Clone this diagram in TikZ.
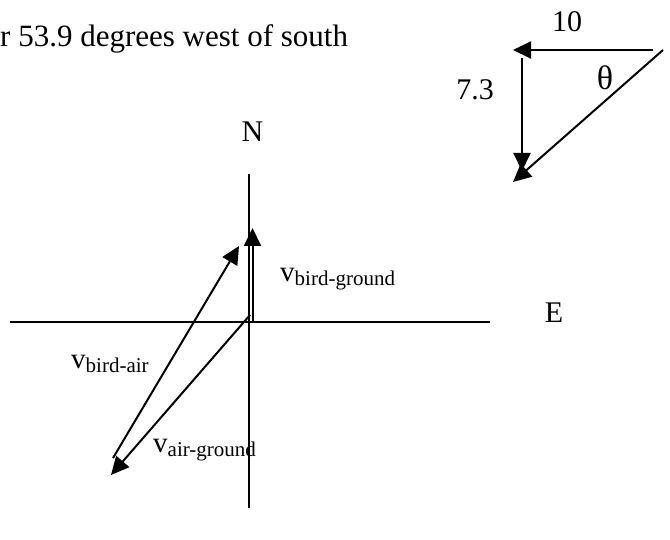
\documentclass[tikz,border=0pt]{standalone}
\usepackage{fontspec}
\setmainfont{Liberation Serif}
\usetikzlibrary{arrows.meta}
\tikzset{
  ln/.style={line width=2pt, line cap=butt},
  arr/.style={ln, -{Triangle[length=18pt,width=17pt]}},
  lab/.style={inner sep=0pt, anchor=base, font=\fontsize{30}{30}\selectfont},
  vlab/.style={inner sep=0pt, anchor=base west, font=\fontsize{29}{30}\selectfont},
}
\newcommand{\sbs}[1]{\raisebox{-4pt}{\fontsize{21}{22}\selectfont #1}}
\begin{document}
\begin{tikzpicture}[x=1pt,y=-1pt]
\useasboundingbox (0,0) rectangle (670,540);
% top text
\node[inner sep=0pt, anchor=base west, font=\fontsize{31}{32}\selectfont] (title) at (0,47) {r 53.9 degrees west of south};
% axes
\coordinate (ntop) at (249,174);
\coordinate (nbot) at (249,508);
\coordinate (wl) at (10,322);
\coordinate (er) at (490,322);
\draw[ln] (ntop) -- (nbot);
\draw[ln] (wl) -- (er);
\node[lab] (N) at (252.5,142) {N};
\node[lab] (E) at (554,323) {E};
% vectors
\coordinate (bgs) at (252.5,322);
\coordinate (bgt) at (252.5,228);
\draw[arr] (bgs) -- (bgt);
\coordinate (bas) at (113,458);
\coordinate (bat) at (239,246);
\draw[arr] (bas) -- (bat);
\coordinate (ags) at (250,315);
\coordinate (agt) at (111,475);
\draw[arr] (ags) -- (agt);
\node[vlab] (lbg) at (280,282) {v\sbs{bird-ground}};
\node[vlab] (lba) at (71,368) {v\sbs{bird-air}};
\node[vlab] (lag) at (153,452) {v\sbs{air-ground}};
% small triangle
\coordinate (ha) at (653,50);
\coordinate (hb) at (513,50);
\coordinate (va) at (522,58);
\coordinate (vb) at (522,171);
\coordinate (da) at (663,50);
\coordinate (db) at (513,182);
\draw[arr] (ha) -- (hb);
\draw[arr] (va) -- (vb);
\draw[arr] (da) -- (db);
\node[lab] (ten) at (567,32) {10};
\node[lab] (sev) at (475,100) {7.3};
\node[lab, font=\fontsize{34}{34}\selectfont] (th) at (605,90) {θ};
\end{tikzpicture}
\end{document}
